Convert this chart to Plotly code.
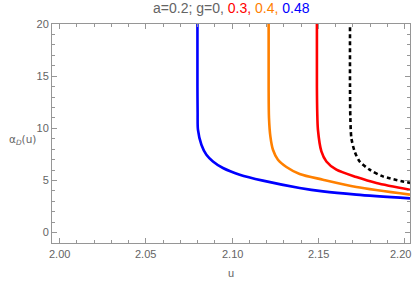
import plotly.graph_objects as go

# g = 0.48 (blue)
u_blue = [2.0799, 2.0799, 2.0800, 2.0802, 2.0822, 2.0851, 2.0889, 2.0947, 2.1044, 2.1179, 2.1392, 2.1527, 2.1721, 2.2032]
a_blue = [20.0, 14.0, 11.5, 9.86, 8.42, 7.46, 6.82, 6.19, 5.55, 4.98, 4.28, 3.95, 3.64, 3.28]
# g = 0.4 (orange)
u_orange = [2.1212, 2.1212, 2.1214, 2.1222, 2.1237, 2.1266, 2.1315, 2.1392, 2.1527, 2.1721, 2.2032]
a_orange = [20.0, 14.0, 11.0, 9.22, 7.94, 6.99, 6.29, 5.62, 5.07, 4.37, 3.64]
# g = 0.3 (red)
u_red = [2.1492, 2.1492, 2.1494, 2.1498, 2.1518, 2.1547, 2.1605, 2.1721, 2.1837, 2.2032]
a_red = [20.0, 14.0, 11.5, 9.86, 7.78, 6.82, 6.03, 5.33, 4.76, 4.11]
# g = 0 (black dashed)
u_black = [2.1684, 2.1684, 2.1686, 2.1692, 2.1711, 2.1740, 2.1798, 2.1875, 2.2032]
a_black = [19.7, 14.0, 11.0, 9.06, 7.78, 6.82, 6.03, 5.39, 4.76]

x_ticks = [2.00, 2.05, 2.10, 2.15, 2.20]
x_tick_labels = ["2.00", "2.05", "2.10", "2.15", "2.20"]
y_ticks = [0, 5, 10, 15, 20]

GRAY = "rgb(100,100,100)"
FRAME = "rgb(150,150,150)"
FONT = "Liberation Sans"

fig = go.Figure()
series = [
    (u_black, a_black, "black", "4px,3px"),
    (u_red, a_red, "rgb(255,0,0)", "solid"),
    (u_orange, a_orange, "rgb(255,128,0)", "solid"),
    (u_blue, a_blue, "rgb(0,0,255)", "solid"),
]
for xs, ys, col, dash in series:
    fig.add_trace(go.Scatter(x=xs, y=ys, mode="lines",
                             line=dict(color=col, width=2.6, dash=dash, shape="spline", smoothing=0.8),
                             showlegend=False, hoverinfo="skip"))

axis_common = dict(
    showgrid=False, zeroline=False, showline=True, linecolor=FRAME, linewidth=1,
    mirror="ticks", ticks="inside", ticklen=5, tickcolor=FRAME, tickwidth=1,
    tickfont=dict(family=FONT, size=11, color=GRAY),
)
fig.update_xaxes(range=[1.99553, 2.2032], tickvals=x_ticks, showticklabels=False,
                 minor=dict(dtick=0.01, tick0=2.0, ticks="inside", ticklen=3, tickcolor=FRAME),
                 **axis_common)
fig.update_yaxes(range=[-1.0, 20.0], tickvals=y_ticks,
                 minor=dict(dtick=1, tick0=0, ticks="inside", ticklen=3, tickcolor=FRAME),
                 **axis_common)

# x tick labels as annotations so the last one is not hidden at the page edge
for xv, lab in zip(x_ticks, x_tick_labels):
    if lab == "2.20":
        fig.add_annotation(text=lab, x=1.0095, xref="paper", yref="paper", y=-0.05,
                           xanchor="right", yanchor="middle", showarrow=False,
                           font=dict(family=FONT, size=11, color=GRAY))
    else:
        fig.add_annotation(text=lab, x=xv, xref="x", yref="paper", y=-0.05,
                           xanchor="center", yanchor="middle", showarrow=False,
                           font=dict(family=FONT, size=11, color=GRAY))

fig.add_annotation(text="u", xref="paper", yref="paper", x=0.5, y=-0.137,
                   xanchor="center", yanchor="middle", showarrow=False,
                   font=dict(family=FONT, size=11, color=GRAY))
fig.add_annotation(text="α<sub><i>D</i></sub>(u)", xref="paper", yref="paper", x=-0.125, y=0.47,
                   xanchor="left", yanchor="middle", showarrow=False,
                   font=dict(family="DejaVu Sans", size=10.5, color=GRAY))

title = ("<span style='color:rgb(100,100,100)'>a=0.2; g=0, </span>"
         "<span style='color:rgb(255,0,0)'>0.3, </span>"
         "<span style='color:rgb(255,128,0)'>0.4, </span>"
         "<span style='color:rgb(0,0,255)'>0.48</span>")
fig.add_annotation(text=title, xref="paper", yref="paper", x=0.501, y=1.075,
                   xanchor="center", yanchor="middle", showarrow=False,
                   font=dict(family=FONT, size=14, color=GRAY))
fig.update_layout(
    width=415, height=282,
    margin=dict(l=52, r=5, t=24, b=39),
    paper_bgcolor="white", plot_bgcolor="white",
)
fig.write_html("out.html", config={"displayModeBar": False},
               post_script="document.body.style.margin='0';")
